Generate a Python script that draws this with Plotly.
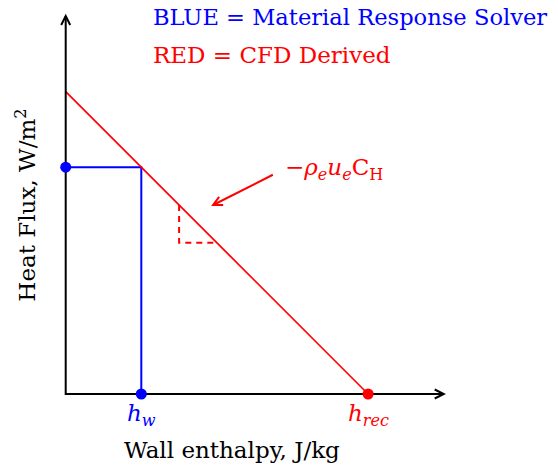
import numpy as np
import plotly.graph_objects as go

# Surface energy balance sketch (arbitrary units)
h_w = 1.0        # wall enthalpy from the material response solver
q_w = 3.0        # heat flux at the wall enthalpy
h_rec = 4.0      # recovery enthalpy (zero heat flux)
q_0 = 4.0        # heat flux extrapolated to zero wall enthalpy
x_axis_end = 5.0
y_axis_end = 5.0
slope_x0 = 1.5   # start of the slope triangle
slope_dx = 0.5   # run of the slope triangle
arrow_tail = (2.74, 2.9)
arrow_head = (1.95, 2.5)

legend_blue = "BLUE = Material Response Solver"
legend_red = "RED = CFD Derived"
slope_label = "−<i>ρ<sub>e</sub>u<sub>e</sub></i>C<sub>H</sub>"
hw_label = "<i>h<sub>w</sub></i>"
hrec_label = "<i>h<sub>rec</sub></i>"
x_title = "Wall enthalpy, J/kg"
y_title = "Heat Flux, W/m<sup>2</sup>"

W, H = 558, 470
PX = 75.6                 # pixels per data unit
ORIGIN = (65.7, 394.0)    # pixel position of the data origin
x_range = [-ORIGIN[0] / PX, (W - ORIGIN[0]) / PX]
y_range = [-(H - ORIGIN[1]) / PX, ORIGIN[1] / PX]

BLUE = "#0000ff"
RED = "#ff0000"
FONT = "DejaVu Serif"
FS = 23


def q_line(h):
    return q_0 + (q_w - q_0) / (h_w - 0.0) * (h - 0.0)


def chevron(tip, tail, color, length=9.0, half=4.5, width=2):
    """Open arrow tip drawn as two strokes, sized in pixels."""
    d = np.array([(tip[0] - tail[0]) * PX, -(tip[1] - tail[1]) * PX])
    d /= np.linalg.norm(d)
    n = np.array([-d[1], d[0]])
    tp = np.array([tip[0] * PX, -tip[1] * PX])
    pts = [tp - length * d + half * n, tp, tp - length * d - half * n]
    data = [(p[0] / PX, -p[1] / PX) for p in pts]
    path = "M {} {} L {} {} L {} {}".format(*[v for p in data for v in p])
    return dict(type="path", path=path, xref="x", yref="y",
                line=dict(color=color, width=width))


fig = go.Figure()

# Blue construction lines at the wall state
fig.add_trace(go.Scatter(x=[0, h_w, h_w], y=[q_w, q_w, 0], mode="lines",
                         line=dict(color=BLUE, width=2), hoverinfo="skip"))

# Red heat-flux line from zero enthalpy to the recovery enthalpy
fig.add_trace(go.Scatter(x=[0, h_rec], y=[q_line(0), q_line(h_rec)], mode="lines",
                         line=dict(color=RED, width=1.7), hoverinfo="skip"))

# Slope triangle
sx = [slope_x0, slope_x0, slope_x0 + slope_dx]
sy = [q_line(slope_x0), q_line(slope_x0 + slope_dx), q_line(slope_x0 + slope_dx)]
fig.add_trace(go.Scatter(x=sx, y=sy, mode="lines",
                         line=dict(color=RED, width=2, dash="6px,5px"), hoverinfo="skip"))

# Axes
fig.add_trace(go.Scatter(x=[0, 0, x_axis_end], y=[y_axis_end, 0, 0], mode="lines",
                         line=dict(color="black", width=2), hoverinfo="skip"))

# Points
fig.add_trace(go.Scatter(x=[0, h_w], y=[q_w, 0], mode="markers",
                         marker=dict(color=BLUE, size=11), hoverinfo="skip"))
fig.add_trace(go.Scatter(x=[h_rec], y=[0], mode="markers",
                         marker=dict(color=RED, size=11), hoverinfo="skip"))

# Pointer to the slope
fig.add_trace(go.Scatter(x=[arrow_tail[0], arrow_head[0]], y=[arrow_tail[1], arrow_head[1]],
                         mode="lines", line=dict(color=RED, width=2), hoverinfo="skip"))

shapes = [
    chevron((x_axis_end, 0), (0, 0), "black"),
    chevron((0, y_axis_end), (0, 0), "black"),
    chevron(arrow_head, arrow_tail, RED),
]


def ann(text, x, y, color="black", xanchor="center", textangle=0, size=FS):
    return dict(text=text, x=x, y=y, xref="x", yref="y", showarrow=False,
                xanchor=xanchor, yanchor="middle", textangle=textangle,
                font=dict(family=FONT, size=size, color=color))


annotations = [
    ann(legend_blue, 1.125, 4.99, BLUE, "left", size=22.6),
    ann(legend_red, 1.125, 4.49, RED, "left"),
    ann(slope_label, 2.88, 2.97, RED, "left"),
    ann(hw_label, h_w, -0.28, BLUE),
    ann(hrec_label, h_rec, -0.28, RED),
    ann(x_title, 2.2, -0.74),
    ann(y_title, -0.53, 2.5, textangle=-90),
]

fig.update_layout(
    width=W, height=H, margin=dict(l=0, r=0, t=0, b=0),
    paper_bgcolor="white", plot_bgcolor="white", showlegend=False,
    xaxis=dict(range=x_range, visible=False, fixedrange=True),
    yaxis=dict(range=y_range, visible=False, fixedrange=True),
    shapes=shapes, annotations=annotations,
)

fig.write_html("out.html")
